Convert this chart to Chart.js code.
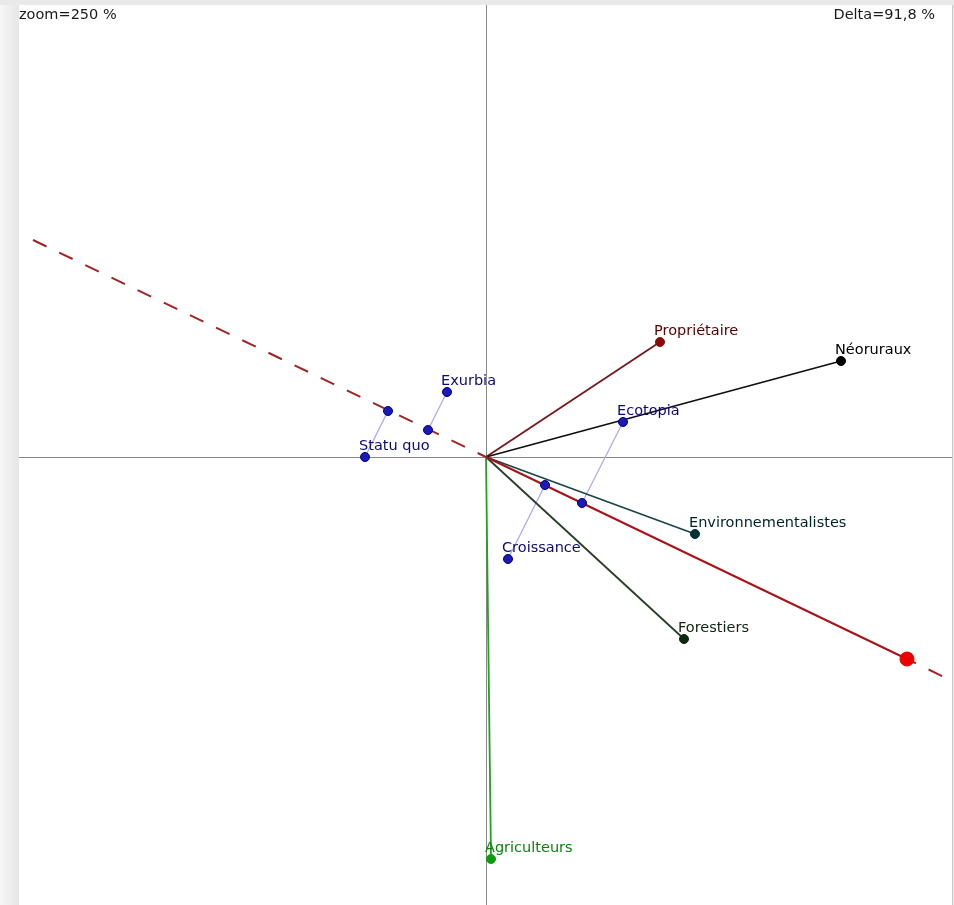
<!DOCTYPE html>
<html>
<head>
<meta charset="utf-8">
<script src="https://cdn.jsdelivr.net/npm/chart.js@4/dist/chart.umd.min.js"></script>
<style>
  html, body { margin: 0; padding: 0; background: #fff; overflow: hidden; }
  canvas { display: block; }
</style>
</head>
<body>
<canvas id="biplot" width="954" height="905"></canvas>
<script>
// Actor vectors (biplot coordinates)
const actorNames  = ['Propriétaire', 'Néoruraux', 'Environnementalistes', 'Forestiers', 'Agriculteurs'];
const actorX      = [1.74, 3.55, 2.09, 1.98, 0.05];
const actorY      = [1.15, 0.96, -0.77, -1.82, -4.02];
const actorLine   = ['#74181c', '#101010', '#1a4646', '#283e28', '#22a022'];
const actorPoint  = ['#8a0a0a', '#000000', '#033030', '#0b2a0b', '#0c9c0c'];
const actorText   = ['#5c0000', '#000000', '#002424', '#102410', '#0a850a'];

// Scenarios and their projections on the target axis
const scenarioNames = ['Exurbia', 'Statu quo', 'Ecotopia', 'Croissance'];
const scenarioX     = [-0.39, -1.21, 1.37, 0.22];
const scenarioY     = [0.65, 0.00, 0.35, -1.02];
const projX         = [-0.58, -0.98, 0.96, 0.59];
const projY         = [0.27, 0.46, -0.46, -0.28];

// Target axis: far-left end, origin, target point, far-right end
const axisX = [-4.53, 0, 4.21, 4.58];
const axisY = [2.17, 0, -2.02, -2.20];

// Header texts
const zoomText  = 'zoom=250 %';
const deltaText = 'Delta=91,8 %';

const FONT = '14.5px "DejaVu Sans", Verdana, sans-serif';
const pt = (x, y) => ({ x, y });

// Datasets listed from bottom layer to top layer
const layers = [];

scenarioNames.forEach((n, i) => {
  layers.push({
    label: 'proj ' + n,
    data: [pt(scenarioX[i], scenarioY[i]), pt(projX[i], projY[i])],
    showLine: true, borderColor: '#a8a8ec', borderWidth: 1.2, pointRadius: 0
  });
});

layers.push({
  label: 'axis left',
  data: [pt(axisX[0], axisY[0]), pt(axisX[1], axisY[1])],
  showLine: true, borderColor: '#a02626', borderWidth: 2,
  borderDash: [15, 14], pointRadius: 0
});
layers.push({
  label: 'axis right',
  data: [pt(axisX[2], axisY[2]), pt(axisX[3], axisY[3])],
  showLine: true, borderColor: '#a02626', borderWidth: 2,
  borderDash: [15, 14], borderDashOffset: 5, pointRadius: 0
});

actorNames.forEach((n, i) => {
  layers.push({
    label: n,
    data: [pt(0, 0), pt(actorX[i], actorY[i])],
    showLine: true, borderColor: actorLine[i], borderWidth: 1.8,
    pointRadius: [0, 4.5], pointBackgroundColor: actorPoint[i],
    pointBorderColor: actorPoint[i], pointBorderWidth: 1
  });
});

layers.push({
  label: 'axis',
  data: [pt(axisX[1], axisY[1]), pt(axisX[2], axisY[2])],
  showLine: true, borderColor: '#a81218', borderWidth: 2,
  pointRadius: [0, 7], pointBackgroundColor: '#ee0000',
  pointBorderColor: '#dd0000', pointBorderWidth: 1
});

layers.push({
  label: 'projections',
  data: projX.map((x, i) => pt(x, projY[i])),
  showLine: false, pointRadius: 4.5,
  pointBackgroundColor: '#1a1ab4', pointBorderColor: '#00008a', pointBorderWidth: 1
});
layers.push({
  label: 'scenarios',
  data: scenarioX.map((x, i) => pt(x, scenarioY[i])),
  showLine: false, pointRadius: 4.5,
  pointBackgroundColor: '#1a1ab4', pointBorderColor: '#00008a', pointBorderWidth: 1
});

layers.forEach((d, i) => { d.order = layers.length - i; });

// Frame, cross axes and texts
const framePlugin = {
  id: 'frame',
  beforeDraw(chart) {
    const c = chart.ctx;
    c.save();
    c.fillStyle = '#e9e9e9';
    c.fillRect(0, 0, 954, 905);
    const g = c.createLinearGradient(0, 0, 19, 0);
    g.addColorStop(0, '#f7f7f7');
    g.addColorStop(1, '#e6e6e6');
    c.fillStyle = g;
    c.fillRect(0, 5, 19, 900);
    c.fillStyle = '#ffffff';
    c.fillRect(19, 5, 933, 900);
    c.strokeStyle = '#c9c9c9';
    c.lineWidth = 1;
    c.beginPath();
    c.moveTo(952.5, 5); c.lineTo(952.5, 905);
    c.stroke();
    c.restore();
  },
  beforeDatasetsDraw(chart) {
    const c = chart.ctx;
    const x0 = chart.scales.x.getPixelForValue(0);
    const y0 = chart.scales.y.getPixelForValue(0);
    c.save();
    c.strokeStyle = '#888888';
    c.lineWidth = 1;
    c.beginPath();
    c.moveTo(Math.round(x0) + 0.5, 5); c.lineTo(Math.round(x0) + 0.5, 905);
    c.moveTo(19, Math.round(y0) + 0.5); c.lineTo(952, Math.round(y0) + 0.5);
    c.stroke();
    c.restore();
  },
  afterDatasetsDraw(chart) {
    const c = chart.ctx;
    const sx = chart.scales.x, sy = chart.scales.y;
    c.save();
    c.font = FONT;
    c.textAlign = 'left';
    c.textBaseline = 'middle';
    actorNames.forEach((n, i) => {
      c.fillStyle = actorText[i];
      c.fillText(n, sx.getPixelForValue(actorX[i]) - 6, sy.getPixelForValue(actorY[i]) - 11);
    });
    scenarioNames.forEach((n, i) => {
      c.fillStyle = '#0a0a7a';
      c.fillText(n, sx.getPixelForValue(scenarioX[i]) - 6, sy.getPixelForValue(scenarioY[i]) - 11);
    });
    c.fillStyle = '#1a1a1a';
    c.fillText(zoomText, 19, 15);
    c.textAlign = 'right';
    c.fillText(deltaText, 935, 15);
    c.restore();
  }
};

new Chart(document.getElementById('biplot'), {
  type: 'scatter',
  data: { datasets: layers },
  options: {
    responsive: false,
    animation: false,
    devicePixelRatio: 1,
    layout: { padding: 0, autoPadding: false },
    plugins: { legend: { display: false }, tooltip: { enabled: false } },
    scales: {
      x: { type: 'linear', display: false, min: -4.86, max: 4.68 },
      y: { type: 'linear', display: false, min: -4.48, max: 4.57 }
    }
  },
  plugins: [framePlugin]
});
</script>
</body>
</html>
